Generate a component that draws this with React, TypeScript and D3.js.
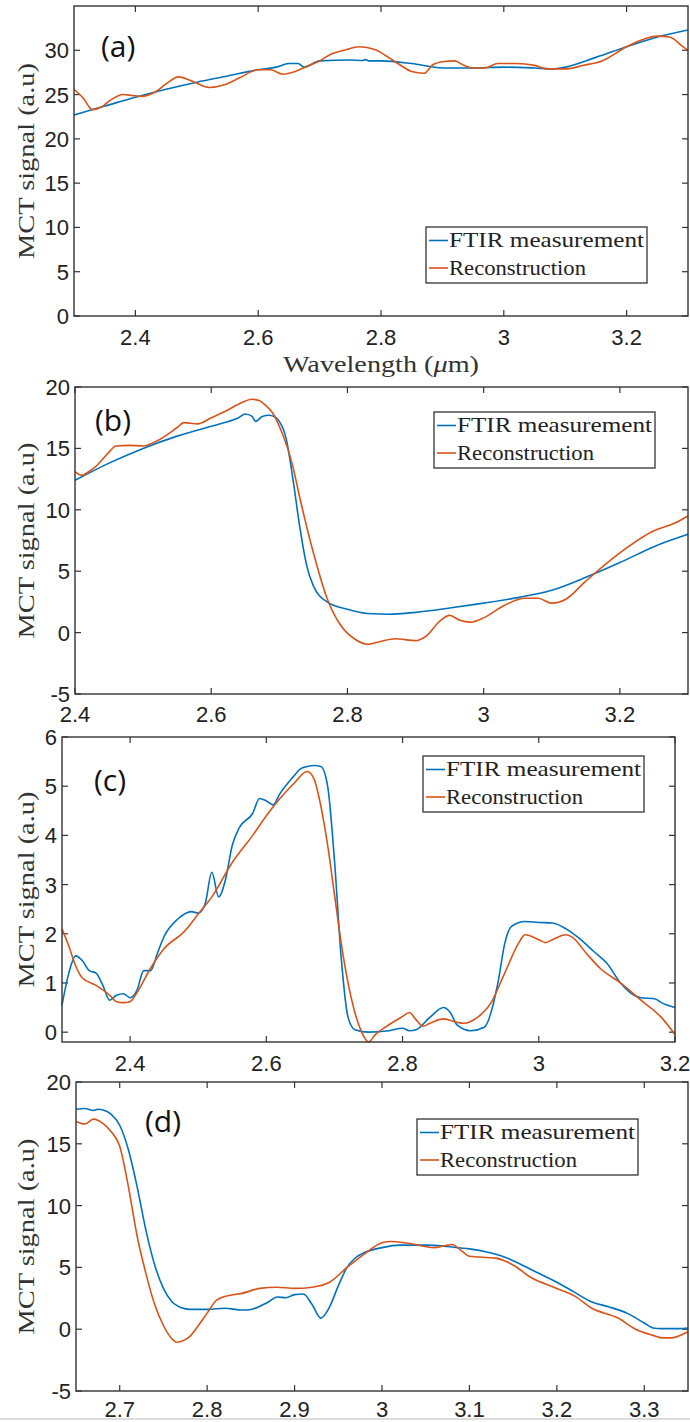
import * as d3 from "d3";
import React from "react";

const width = 690;
const height = 1422;
const blue = "#0072BD";
const orange = "#D95319";
const axisColor = "#333333";

// [wavelength (um), MCT signal (a.u)]
const aFtir = [
  [2.3, 22.7], [2.35, 23.7], [2.4, 24.7], [2.45, 25.6], [2.5, 26.4], [2.55, 27.1],
  [2.6, 27.8], [2.63, 28.1], [2.65, 28.5], [2.665, 28.5], [2.675, 28.1], [2.7, 28.8],
  [2.75, 28.9], [2.77, 28.85], [2.775, 28.95], [2.78, 28.8], [2.8, 28.8], [2.85, 28.5],
  [2.9, 28.0], [2.95, 28.0], [3.0, 28.1], [3.05, 28.0], [3.08, 27.9], [3.1, 28.1],
  [3.15, 29.2], [3.2, 30.4], [3.25, 31.5], [3.3, 32.3],
];
const aRecon = [
  [2.3, 25.6], [2.315, 24.6], [2.33, 23.3], [2.345, 23.6], [2.36, 24.4], [2.38, 25.0],
  [2.395, 24.9], [2.41, 24.8], [2.43, 25.2], [2.45, 26.2], [2.47, 27.0], [2.49, 26.6],
  [2.52, 25.8], [2.545, 26.1], [2.57, 26.9], [2.6, 27.8], [2.62, 27.8], [2.64, 27.3],
  [2.66, 27.6], [2.68, 28.2], [2.7, 28.8], [2.72, 29.6], [2.74, 30.0], [2.765, 30.4],
  [2.79, 30.1], [2.81, 29.3], [2.83, 28.4], [2.85, 27.6], [2.87, 27.4], [2.885, 28.4],
  [2.9, 28.7], [2.92, 28.8], [2.935, 28.3], [2.95, 28.0], [2.97, 28.0], [2.99, 28.5],
  [3.02, 28.5], [3.05, 28.3], [3.07, 27.9], [3.1, 27.9], [3.13, 28.3], [3.16, 28.8],
  [3.2, 30.4], [3.23, 31.3], [3.25, 31.6], [3.27, 31.5], [3.29, 30.5], [3.3, 30.0],
];

const bFtir = [
  [2.4, 12.4], [2.45, 13.8], [2.5, 15.0], [2.55, 16.0], [2.6, 16.8], [2.62, 17.1],
  [2.64, 17.5], [2.65, 17.8], [2.66, 17.6], [2.665, 17.2], [2.675, 17.6], [2.685, 17.7],
  [2.695, 17.5], [2.7, 17.2], [2.71, 15.8], [2.72, 12.5], [2.73, 8.6], [2.74, 5.5],
  [2.75, 3.8], [2.77, 2.5], [2.8, 1.9], [2.83, 1.55], [2.86, 1.5], [2.9, 1.65],
  [2.95, 2.0], [3.0, 2.4], [3.05, 2.85], [3.1, 3.45], [3.15, 4.5], [3.2, 5.7],
  [3.25, 7.0], [3.3, 8.0],
];
const bRecon = [
  [2.4, 13.1], [2.41, 12.8], [2.42, 13.1], [2.43, 13.5], [2.45, 14.7], [2.46, 15.2],
  [2.48, 15.25], [2.5, 15.2], [2.52, 15.6], [2.55, 16.7], [2.56, 17.1], [2.58, 17.0],
  [2.6, 17.5], [2.62, 18.0], [2.64, 18.6], [2.66, 19.0], [2.67, 18.9], [2.68, 18.5],
  [2.69, 17.9], [2.7, 16.8], [2.72, 13.5], [2.73, 11.0], [2.75, 6.5], [2.77, 2.8],
  [2.79, 0.6], [2.81, -0.5], [2.83, -0.95], [2.85, -0.7], [2.87, -0.5], [2.9, -0.65],
  [2.915, -0.3], [2.935, 0.9], [2.95, 1.4], [2.965, 1.0], [2.98, 0.85], [3.0, 1.2],
  [3.03, 2.2], [3.06, 2.8], [3.08, 2.8], [3.1, 2.4], [3.12, 2.7], [3.15, 4.2],
  [3.2, 6.5], [3.25, 8.3], [3.28, 8.9], [3.3, 9.5],
];

const cFtir = [
  [2.3, 0.55], [2.31, 1.2], [2.32, 1.55], [2.33, 1.45], [2.34, 1.25], [2.35, 1.2],
  [2.36, 0.95], [2.37, 0.65], [2.38, 0.75], [2.39, 0.78], [2.4, 0.7], [2.41, 0.85],
  [2.42, 1.25], [2.43, 1.25], [2.44, 1.6], [2.45, 1.95], [2.47, 2.3], [2.49, 2.45],
  [2.5, 2.42], [2.51, 2.6], [2.52, 3.25], [2.53, 2.75], [2.54, 3.1], [2.55, 3.8],
  [2.56, 4.15], [2.58, 4.45], [2.59, 4.75], [2.6, 4.7], [2.61, 4.62], [2.62, 4.85],
  [2.64, 5.2], [2.65, 5.35], [2.66, 5.4], [2.67, 5.42], [2.68, 5.4], [2.69, 5.0],
  [2.7, 3.5], [2.71, 1.5], [2.72, 0.3], [2.73, 0.05], [2.75, 0.0], [2.78, 0.03],
  [2.8, 0.08], [2.81, 0.03], [2.82, 0.05], [2.84, 0.3], [2.86, 0.5], [2.87, 0.4],
  [2.88, 0.15], [2.9, 0.03], [2.92, 0.1], [2.94, 1.0], [2.95, 1.8], [2.96, 2.15],
  [2.98, 2.25], [3.0, 2.23], [3.02, 2.22], [3.04, 2.1], [3.06, 1.9], [3.08, 1.65],
  [3.1, 1.4], [3.12, 1.0], [3.14, 0.75], [3.15, 0.7], [3.17, 0.68], [3.18, 0.6],
  [3.2, 0.5],
];
const cRecon = [
  [2.3, 2.1], [2.31, 1.75], [2.32, 1.35], [2.33, 1.1], [2.35, 0.95], [2.37, 0.75],
  [2.38, 0.62], [2.39, 0.6], [2.4, 0.62], [2.41, 0.8], [2.43, 1.3], [2.45, 1.7],
  [2.48, 2.05], [2.5, 2.4], [2.52, 2.75], [2.55, 3.45], [2.58, 4.0], [2.6, 4.4],
  [2.62, 4.75], [2.64, 5.05], [2.66, 5.3], [2.67, 5.15], [2.68, 4.6], [2.69, 3.8],
  [2.7, 2.8], [2.71, 1.8], [2.72, 1.0], [2.73, 0.4], [2.74, 0.0], [2.75, -0.2],
  [2.76, -0.05], [2.78, 0.15], [2.8, 0.32], [2.81, 0.4], [2.82, 0.25], [2.83, 0.12],
  [2.84, 0.18], [2.86, 0.27], [2.88, 0.2], [2.89, 0.18], [2.91, 0.3], [2.93, 0.6],
  [2.95, 1.2], [2.97, 1.8], [2.98, 1.98], [3.0, 1.88], [3.01, 1.82], [3.02, 1.88],
  [3.04, 1.98], [3.05, 1.92], [3.07, 1.6], [3.09, 1.3], [3.12, 1.0], [3.15, 0.65],
  [3.18, 0.3], [3.2, -0.05],
];

const dFtir = [
  [2.65, 17.8], [2.66, 17.85], [2.67, 17.7], [2.675, 17.8], [2.68, 17.75], [2.69, 17.4],
  [2.7, 16.5], [2.71, 14.5], [2.72, 11.5], [2.73, 8.0], [2.74, 5.2], [2.75, 3.3],
  [2.76, 2.2], [2.77, 1.75], [2.78, 1.6], [2.8, 1.6], [2.82, 1.7], [2.84, 1.55],
  [2.85, 1.6], [2.87, 2.2], [2.88, 2.6], [2.89, 2.55], [2.9, 2.8], [2.91, 2.85],
  [2.92, 2.0], [2.93, 0.9], [2.94, 1.8], [2.95, 3.5], [2.96, 5.0], [2.97, 5.8],
  [2.98, 6.2], [3.0, 6.6], [3.02, 6.8], [3.05, 6.8], [3.08, 6.65], [3.1, 6.5],
  [3.12, 6.25], [3.14, 5.85], [3.16, 5.2], [3.18, 4.5], [3.2, 3.8], [3.22, 3.0],
  [3.24, 2.2], [3.26, 1.8], [3.28, 1.3], [3.3, 0.5], [3.31, 0.1], [3.32, 0.05],
  [3.34, 0.05], [3.35, 0.1],
];
const dRecon = [
  [2.65, 16.8], [2.66, 16.6], [2.67, 17.0], [2.68, 16.7], [2.69, 16.0], [2.7, 14.8],
  [2.71, 11.5], [2.72, 7.5], [2.73, 4.5], [2.74, 2.0], [2.75, 0.3], [2.76, -0.8],
  [2.765, -1.05], [2.77, -1.0], [2.78, -0.6], [2.79, 0.3], [2.8, 1.3], [2.81, 2.3],
  [2.82, 2.65], [2.84, 2.9], [2.86, 3.3], [2.88, 3.4], [2.9, 3.3], [2.92, 3.4],
  [2.94, 3.8], [2.96, 5.0], [2.98, 6.1], [3.0, 7.0], [3.01, 7.1], [3.03, 6.95],
  [3.06, 6.6], [3.08, 6.85], [3.09, 6.4], [3.1, 5.9], [3.13, 5.75], [3.15, 5.2],
  [3.17, 4.2], [3.2, 3.3], [3.22, 2.7], [3.24, 1.7], [3.27, 0.9], [3.29, 0.0],
  [3.31, -0.5], [3.32, -0.7], [3.33, -0.7], [3.35, -0.2],
];

const xTicksA = [2.4, 2.6, 2.8, 3, 3.2];
const yTicksA = [0, 5, 10, 15, 20, 25, 30];
const xTicksB = [2.4, 2.6, 2.8, 3, 3.2];
const yTicksB = [-5, 0, 5, 10, 15, 20];
const xTicksC = [2.4, 2.6, 2.8, 3, 3.2];
const yTicksC = [0, 1, 2, 3, 4, 5, 6];
const xTicksD = [2.7, 2.8, 2.9, 3, 3.1, 3.2, 3.3];
const yTicksD = [-5, 0, 5, 10, 15, 20];

const seriesNames = ["FTIR measurement", "Reconstruction"];
const yTitle = "MCT signal (a.u)";

const panels = [
  {
    tag: "(a)", ftir: aFtir, recon: aRecon, xDomain: [2.3, 3.3], yDomain: [0, 35],
    xTicks: xTicksA, yTicks: yTicksA, left: 74, right: 688, top: 6, bottom: 316,
    legend: [426, 227], tagPos: [101, 57], xTitle: true, labelDy: 29,
  },
  {
    tag: "(b)", ftir: bFtir, recon: bRecon, xDomain: [2.4, 3.3], yDomain: [-5, 20],
    xTicks: xTicksB, yTicks: yTicksB, left: 75, right: 688, top: 387, bottom: 694,
    legend: [434, 412], tagPos: [95, 431], xTitle: false, labelDy: 28,
  },
  {
    tag: "(c)", ftir: cFtir, recon: cRecon, xDomain: [2.3, 3.2], yDomain: [-0.2, 6],
    xTicks: xTicksC, yTicks: yTicksC, left: 62, right: 675, top: 737, bottom: 1042,
    legend: [423, 756], tagPos: [94, 791], xTitle: false, labelDy: 29,
  },
  {
    tag: "(d)", ftir: dFtir, recon: dRecon, xDomain: [2.65, 3.35], yDomain: [-5, 20],
    xTicks: xTicksD, yTicks: yTicksD, left: 76, right: 688, top: 1082, bottom: 1391,
    legend: [417, 1119], tagPos: [145, 1132], xTitle: false, labelDy: 26,
  },
];

const sans = "'Liberation Sans', Arial, sans-serif";
const serif = "'Liberation Serif', 'Times New Roman', serif";

const Panel = ({ p }) => {
  const x = d3.scaleLinear().domain(p.xDomain).range([p.left, p.right]);
  const y = d3.scaleLinear().domain(p.yDomain).range([p.bottom, p.top]);
  const line = d3
    .line()
    .x((d) => x(d[0]))
    .y((d) => y(d[1]))
    .curve(d3.curveMonotoneX);
  const tl = 6;
  const [lx, ly] = p.legend;
  const midY = (p.top + p.bottom) / 2;

  return (
    <g>
      <defs>
        <clipPath id={"clip" + p.tag}>
          <rect x={p.left} y={p.top} width={p.right - p.left} height={p.bottom - p.top} />
        </clipPath>
      </defs>
      {/* ticks, inside on all four sides */}
      {p.xTicks.map((t) => (
        <g key={"x" + t} stroke={axisColor} strokeWidth={1.2}>
          <line x1={x(t)} x2={x(t)} y1={p.bottom} y2={p.bottom - tl} />
          <line x1={x(t)} x2={x(t)} y1={p.top} y2={p.top + tl} />
        </g>
      ))}
      {p.yTicks.map((t) => (
        <g key={"y" + t} stroke={axisColor} strokeWidth={1.2}>
          <line x1={p.left} x2={p.left + tl} y1={y(t)} y2={y(t)} />
          <line x1={p.right} x2={p.right - tl} y1={y(t)} y2={y(t)} />
        </g>
      ))}
      <g clipPath={`url(#clip${p.tag})`} fill="none" strokeWidth={1.6}>
        <path d={line(p.ftir)} stroke={blue} />
        <path d={line(p.recon)} stroke={orange} />
      </g>
      <rect
        x={p.left} y={p.top} width={p.right - p.left} height={p.bottom - p.top}
        fill="none" stroke={axisColor} strokeWidth={1.4}
      />
      {p.xTicks.map((t) => (
        <text key={"xl" + t} x={x(t)} y={p.bottom + p.labelDy} textAnchor="middle"
          fontFamily={sans} fontSize={22} fill="#222">
          {d3.format("")(t)}
        </text>
      ))}
      {p.yTicks.map((t) => (
        <text key={"yl" + t} x={p.left - 5} y={y(t) + 8} textAnchor="end"
          fontFamily={sans} fontSize={22} fill="#222">
          {t}
        </text>
      ))}
      <text
        transform={`translate(34, ${midY}) rotate(-90)`} textAnchor="middle"
        fontFamily={serif} fontSize={24} fill="#333" textLength={196}
        lengthAdjust="spacingAndGlyphs"
      >
        {yTitle}
      </text>
      {p.xTitle && (
        <text x={(p.left + p.right) / 2} y={372} textAnchor="middle"
          fontFamily={serif} fontSize={24} fill="#333" textLength={196}
          lengthAdjust="spacingAndGlyphs">
          Wavelength (<tspan fontStyle="italic">μ</tspan>m)
        </text>
      )}
      <text x={p.tagPos[0]} y={p.tagPos[1]} fontFamily="'Open Sans', sans-serif"
        fontSize={30} fill="#111">
        {p.tag}
      </text>
      {/* legend */}
      <rect x={lx} y={ly} width={221} height={56} fill="#fff" stroke={axisColor} strokeWidth={1.3} />
      {seriesNames.map((name, i) => (
        <g key={name}>
          <line x1={lx + 3} x2={lx + 22} y1={ly + 13.5 + i * 27.5} y2={ly + 13.5 + i * 27.5}
            stroke={i === 0 ? blue : orange} strokeWidth={1.6} />
          <text x={lx + 23} y={ly + 20 + i * 27.5} fontFamily={serif} fontSize={21} fill="#222"
            textLength={i === 0 ? 195 : 137} lengthAdjust="spacingAndGlyphs">
            {name}
          </text>
        </g>
      ))}
    </g>
  );
};

export default function App() {
  return (
    <svg width={width} height={height} style={{ position: "absolute", left: 0, top: 0, background: "#fff" }}>
      <rect width={width} height={height} fill="#fff" />
      {panels.map((p) => (
        <Panel key={p.tag} p={p} />
      ))}
      <line x1={0} x2={width} y1={1419} y2={1419} stroke="#ddd" strokeWidth={2} />
    </svg>
  );
}
